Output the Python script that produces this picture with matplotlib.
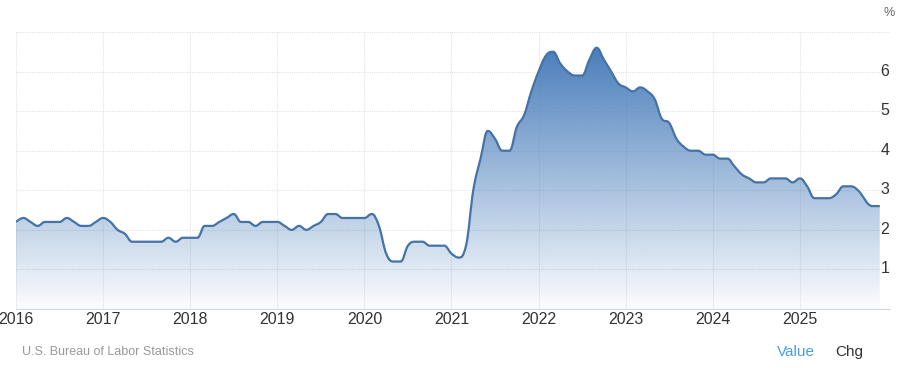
import numpy as np
import matplotlib.pyplot as plt
from matplotlib.path import Path
from matplotlib.patches import PathPatch

plt.rcParams['font.family'] = ['Liberation Sans', 'DejaVu Sans']

# monthly values, Jan 2016 .. Dec 2025 (Oct 2025 not published)
y2016 = [2.2, 2.3, 2.2, 2.1, 2.2, 2.2, 2.2, 2.3, 2.2, 2.1, 2.1, 2.2]
y2017 = [2.3, 2.2, 2.0, 1.9, 1.7, 1.7, 1.7, 1.7, 1.7, 1.8, 1.7, 1.8]
y2018 = [1.8, 1.8, 2.1, 2.1, 2.2, 2.3, 2.4, 2.2, 2.2, 2.1, 2.2, 2.2]
y2019 = [2.2, 2.1, 2.0, 2.1, 2.0, 2.1, 2.2, 2.4, 2.4, 2.3, 2.3, 2.3]
y2020 = [2.3, 2.4, 2.1, 1.4, 1.2, 1.2, 1.6, 1.7, 1.7, 1.6, 1.6, 1.6]
y2021 = [1.4, 1.3, 1.6, 3.0, 3.8, 4.5, 4.3, 4.0, 4.0, 4.6, 4.9, 5.5]
y2022 = [6.0, 6.4, 6.5, 6.2, 6.0, 5.9, 5.9, 6.3, 6.6, 6.3, 6.0, 5.7]
y2023 = [5.6, 5.5, 5.6, 5.5, 5.3, 4.8, 4.7, 4.3, 4.1, 4.0, 4.0, 3.9]
y2024 = [3.9, 3.8, 3.8, 3.6, 3.4, 3.3, 3.2, 3.2, 3.3, 3.3, 3.3, 3.2]
y2025 = [3.3, 3.1, 2.8, 2.8, 2.8, 2.9, 3.1, 3.1, 3.0, np.nan, 2.6, 2.6]

years = list(range(2016, 2026))
yticks = [1, 2, 3, 4, 5, 6]

vals = np.array(y2016 + y2017 + y2018 + y2019 + y2020 + y2021 + y2022 + y2023 + y2024 + y2025)
xs = 2016 + np.arange(len(vals)) / 12.0
ok = ~np.isnan(vals)
xs, vals = xs[ok], vals[ok]

line_col = '#4572a7'
fill_rgb = np.array([74, 126, 187]) / 255.0


def spline_path(x, y, smooth=1.5):
    # highcharts-like spline: control points pulled toward neighbours, clamped
    n = len(x)
    lc = [(x[0], y[0])] * n
    rc = [(x[0], y[0])] * n
    for i in range(n):
        if i == 0 or i == n - 1:
            lc[i] = (x[i], y[i])
            rc[i] = (x[i], y[i])
            continue
        lx = (smooth * x[i] + x[i - 1]) / (smooth + 1)
        ly = (smooth * y[i] + y[i - 1]) / (smooth + 1)
        rx = (smooth * x[i] + x[i + 1]) / (smooth + 1)
        ry = (smooth * y[i] + y[i + 1]) / (smooth + 1)
        corr = (ry - ly) * (rx - x[i]) / (rx - lx) + y[i] - ry
        ly += corr
        ry += corr
        if ly > y[i - 1] and ly > y[i]:
            ly = max(y[i - 1], y[i]); ry = 2 * y[i] - ly
        elif ly < y[i - 1] and ly < y[i]:
            ly = min(y[i - 1], y[i]); ry = 2 * y[i] - ly
        if ry > y[i + 1] and ry > y[i]:
            ry = max(y[i + 1], y[i]); ly = 2 * y[i] - ry
        elif ry < y[i + 1] and ry < y[i]:
            ry = min(y[i + 1], y[i]); ly = 2 * y[i] - ry
        lc[i] = (lx, ly)
        rc[i] = (rx, ry)
    verts = [(x[0], y[0])]
    codes = [Path.MOVETO]
    for i in range(1, n):
        verts += [rc[i - 1], lc[i], (x[i], y[i])]
        codes += [Path.CURVE4] * 3
    return verts, codes


fig = plt.figure(figsize=(9, 3.7), dpi=100)
ax = fig.add_axes([16 / 900, 1 - 309 / 370, (890 - 16) / 900, (309 - 32) / 370])
ax.set_xlim(2016, 2016 + (890 - 16) / 87.1)
ax.set_ylim(0, 7)

verts, codes = spline_path(xs, vals)

# gradient area under the curve
fverts = verts + [(xs[-1], 0), (xs[0], 0), (xs[0], vals[0])]
fcodes = codes + [Path.LINETO, Path.LINETO, Path.CLOSEPOLY]
clip = PathPatch(Path(fverts, fcodes), facecolor='none', edgecolor='none', transform=ax.transData)
ax.add_patch(clip)
grad = np.zeros((300, 1, 4))
a = np.clip(np.linspace(0.02, 7 / 6.6, 300), 0, 1)
grad[:, 0, :3] = fill_rgb
grad[:, 0, 3] = a
im = ax.imshow(grad, extent=[xs[0], xs[-1], 0, 7], origin='lower', aspect='auto', zorder=1)
im.set_clip_path(clip)

ax.add_patch(PathPatch(Path(verts, codes), facecolor='none', edgecolor=line_col, lw=1.6, zorder=3))

# grid
for yv in yticks + [7]:
    ax.axhline(yv, color='#e3e3e3', lw=0.8, ls=(0, (1, 1)), zorder=0)
for xv in years:
    ax.axvline(xv, color='#e3e3e3', lw=0.8, ls=(0, (1, 1)), zorder=0)

for s in ['top', 'left', 'right']:
    ax.spines[s].set_visible(False)
ax.spines['bottom'].set_color('#d6d6d6')
ax.spines['bottom'].set_linewidth(0.8)

ax.set_xticks(years)
ax.set_xticklabels([str(y) for y in years], fontsize=11.5, color='#333333')
ax.tick_params(axis='x', length=0, pad=2)
ax.yaxis.tick_right()
ax.set_yticks([v + 0.05 for v in yticks])
ax.set_yticklabels([str(v) for v in yticks], fontsize=11.5, color='#333333')
ax.tick_params(axis='y', length=0, pad=-7)

fig.text(884 / 900, 1 - 13 / 370, '%', fontsize=9, color='#666666', ha='left', va='center')
fig.text(22 / 900, 1 - 352 / 370, 'U.S. Bureau of Labor Statistics', fontsize=9, color='#999999',
         ha='left', va='center')
fig.text(777 / 900, 1 - 352 / 370, 'Value', fontsize=11, color='#4a9de0', ha='left', va='center')
fig.text(835 / 900, 1 - 352 / 370, 'Chg', fontsize=11, color='#333333', ha='left', va='center')

fig.savefig('out.png', dpi=100, facecolor='white')
